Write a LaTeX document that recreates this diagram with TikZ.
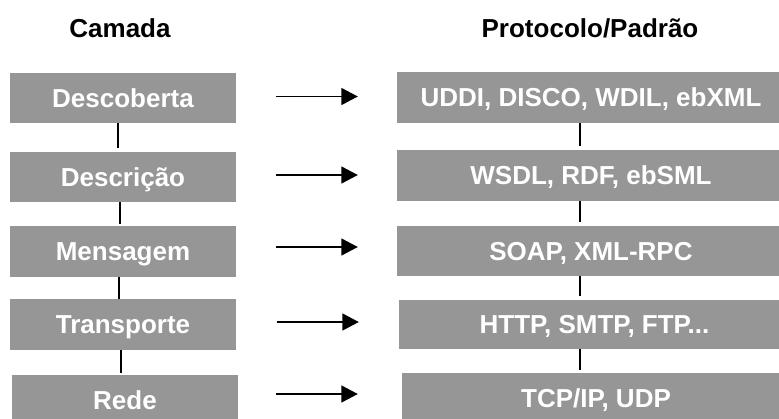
\documentclass[tikz,border=0pt]{standalone}
\usepackage{fontspec}
\setmainfont{Liberation Sans}
\usetikzlibrary{arrows.meta}
\definecolor{boxgray}{RGB}{150,150,150}
\tikzset{
  layerbox/.style={rectangle, fill=boxgray, text=white, inner sep=0pt,
    font=\fontsize{26bp}{30bp}\selectfont\bfseries,
    text height=18.6bp, text depth=0pt, minimum height=50bp},
  header/.style={inner sep=0pt, anchor=base,
    font=\fontsize{26bp}{30bp}\selectfont\bfseries},
  link/.style={line width=1.6bp, black},
  maparrow/.style={line width=1.6bp, black,
    -{Triangle[length=16.5bp,width=17bp]}},
}
\begin{document}
\begin{tikzpicture}[x=1bp, y=-1bp]
  \useasboundingbox (0,0) rectangle (779,418);
  \clip (0,0) rectangle (779,418);

  % column titles
  \node[header] (hcam) at (120,37) {Camada};
  \node[header] (hpro) at (590,37.5) {Protocolo/Padrão};

  % layers
  \node[layerbox, minimum width=226bp] (L1) at (123,98)    {Descoberta};
  \node[layerbox, minimum width=226bp] (L2) at (123,177)   {Descrição};
  \node[layerbox, minimum width=226bp, minimum height=51bp] (L3) at (123,251.5) {Mensagem};
  \node[layerbox, minimum width=226bp, minimum height=51bp] (L4) at (123,324.5) {Transporte};
  \node[layerbox, minimum width=226bp] (L5) at (125,400)   {Rede};

  % protocols and standards
  \node[layerbox, minimum width=388bp, minimum height=51bp] (R1) at (591,97.5)  {UDDI, DISCO, WDIL, ebXML};
  \node[layerbox, minimum width=388bp, minimum height=51bp] (R2) at (591,175.5) {WSDL, RDF, ebSML};
  \node[layerbox, minimum width=388bp] (R3) at (591,251)   {SOAP, XML-RPC};
  \node[layerbox, minimum width=391bp, minimum height=49bp] (R4) at (594.5,324.5) {HTTP, SMTP, FTP...};
  \node[layerbox, minimum width=388bp] (R5) at (596,398)   {TCP/IP, UDP};

  % layer stack links
  \draw[link, shorten >=4bp] ([xshift=-5bp]L1.south) -- ([xshift=-5bp]L1.south |- L2.north);
  \draw[link, shorten >=2bp] ([xshift=-3bp]L2.south) -- ([xshift=-3bp]L2.south |- L3.north);
  \draw[link] ([xshift=-4bp]L3.south) -- ([xshift=-4bp]L3.south |- L4.north);
  \draw[link, shorten >=1.5bp] ([xshift=-2bp]L4.south) -- ([xshift=-2bp]L4.south |- L5.north);

  % protocol stack links
  \draw[link, shorten >=3.5bp] ([xshift=-11bp]R1.south) -- ([xshift=-11bp]R1.south |- R2.north);
  \draw[link, shorten >=3.5bp] ([xshift=-11bp]R2.south) -- ([xshift=-11bp]R2.south |- R3.north);
  \draw[link, shorten >=3.5bp] ([xshift=-11bp]R3.south) -- ([xshift=-11bp]R3.south |- R4.north);
  \draw[link, shorten >=3bp] ([xshift=-14.5bp]R4.south) -- ([xshift=-14.5bp]R4.south |- R5.north);

  % layer -> protocol arrows
  \draw[maparrow, shorten <=40bp, shorten >=39bp] ([yshift=1.5bp]L1.east) -- ([yshift=1.5bp]L1.east -| R1.west);
  \draw[maparrow, shorten <=40bp, shorten >=39bp] ([yshift=2bp]L2.east) -- ([yshift=2bp]L2.east -| R2.west);
  \draw[maparrow, shorten <=40bp, shorten >=39bp] ([yshift=4.5bp]L3.east) -- ([yshift=4.5bp]L3.east -| R3.west);
  \draw[maparrow, shorten <=41bp, shorten >=40bp] ([yshift=2.5bp]L4.east) -- ([yshift=2.5bp]L4.east -| R4.west);
  \draw[maparrow, shorten <=38bp, shorten >=44bp] ([yshift=6bp]L5.east) -- ([yshift=6bp]L5.east -| R5.west);
\end{tikzpicture}
\end{document}
